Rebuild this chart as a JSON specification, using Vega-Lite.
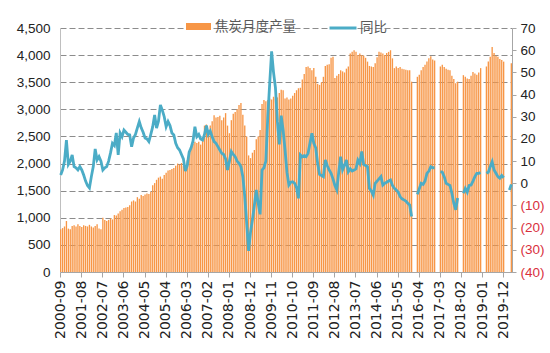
{
  "$schema": "https://vega.github.io/schema/vega-lite/v6.json",
  "width": 452,
  "height": 244,
  "autosize": {"type": "none"},
  "padding": {"left": 60, "top": 28, "right": 38, "bottom": 81},
  "config": {"view": {"stroke": null}, "font": "Liberation Sans", "mark": {"invalid": "break-paths-show-domains"}},
  "data": {"values": [
    {"m":"2000-09","v":790,"y":3.7},{"m":"2000-10","v":810,"y":6},{"m":"2000-11","v":840,"y":10},{"m":"2000-12","v":940,"y":19.5},
    {"m":"2001-01","v":800,"y":8.5},{"m":"2001-02","v":790,"y":10},{"m":"2001-03","v":850,"y":12.8},{"m":"2001-04","v":860,"y":7.5},{"m":"2001-05","v":840,"y":7},{"m":"2001-06","v":880,"y":6},{"m":"2001-07","v":850,"y":7.5},{"m":"2001-08","v":830,"y":6},{"m":"2001-09","v":860,"y":3.7},{"m":"2001-10","v":850,"y":1},{"m":"2001-11","v":840,"y":-1},{"m":"2001-12","v":870,"y":-2.1},
    {"m":"2002-01","v":840,"y":3},{"m":"2002-02","v":820,"y":7.5},{"m":"2002-03","v":850,"y":15.5},{"m":"2002-04","v":880,"y":10.5},{"m":"2002-05","v":800,"y":12},{"m":"2002-06","v":790,"y":10},{"m":"2002-07","v":1000,"y":6},{"m":"2002-08","v":960,"y":7},{"m":"2002-09","v":940,"y":7.5},{"m":"2002-10","v":960,"y":10},{"m":"2002-11","v":990,"y":13.7},{"m":"2002-12","v":970,"y":18},
    {"m":"2003-01","v":1050,"y":17},{"m":"2003-02","v":1040,"y":22.7},{"m":"2003-03","v":1080,"y":12.8},{"m":"2003-04","v":1120,"y":22.7},{"m":"2003-05","v":1150,"y":21},{"m":"2003-06","v":1180,"y":24},{"m":"2003-07","v":1190,"y":23},{"m":"2003-08","v":1200,"y":22},{"m":"2003-09","v":1230,"y":21.8},{"m":"2003-10","v":1300,"y":16.5},{"m":"2003-11","v":1320,"y":20.4},{"m":"2003-12","v":1300,"y":22},
    {"m":"2004-01","v":1380,"y":25},{"m":"2004-02","v":1350,"y":27.8},{"m":"2004-03","v":1420,"y":25},{"m":"2004-04","v":1400,"y":23},{"m":"2004-05","v":1430,"y":20.4},{"m":"2004-06","v":1450,"y":20},{"m":"2004-07","v":1440,"y":18.8},{"m":"2004-08","v":1480,"y":22},{"m":"2004-09","v":1600,"y":25.5},{"m":"2004-10","v":1640,"y":30.8},{"m":"2004-11","v":1700,"y":24.9},{"m":"2004-12","v":1740,"y":28},
    {"m":"2005-01","v":1760,"y":35.3},{"m":"2005-02","v":1720,"y":33},{"m":"2005-03","v":1790,"y":30},{"m":"2005-04","v":1830,"y":25.5},{"m":"2005-05","v":1870,"y":27.8},{"m":"2005-06","v":1880,"y":26},{"m":"2005-07","v":1900,"y":22.7},{"m":"2005-08","v":1920,"y":21.8},{"m":"2005-09","v":1960,"y":18},{"m":"2005-10","v":2000,"y":16},{"m":"2005-11","v":1980,"y":15},{"m":"2005-12","v":2010,"y":13},
    {"m":"2006-01","v":1960,"y":11},{"m":"2006-02","v":1880,"y":5.5},{"m":"2006-03","v":2060,"y":8},{"m":"2006-04","v":2200,"y":14},{"m":"2006-05","v":2310,"y":16},{"m":"2006-06","v":2360,"y":19},{"m":"2006-07","v":2400,"y":25.5},{"m":"2006-08","v":2380,"y":21},{"m":"2006-09","v":2400,"y":22},{"m":"2006-10","v":2350,"y":20},{"m":"2006-11","v":2420,"y":19.5},{"m":"2006-12","v":2700,"y":22},
    {"m":"2007-01","v":2720,"y":26},{"m":"2007-02","v":2560,"y":22},{"m":"2007-03","v":2700,"y":23.5},{"m":"2007-04","v":2780,"y":21},{"m":"2007-05","v":2890,"y":18.8},{"m":"2007-06","v":2850,"y":18},{"m":"2007-07","v":2860,"y":16.5},{"m":"2007-08","v":2880,"y":15},{"m":"2007-09","v":2800,"y":13.5},{"m":"2007-10","v":2850,"y":13},{"m":"2007-11","v":2930,"y":11},{"m":"2007-12","v":2700,"y":6},
    {"m":"2008-01","v":2560,"y":10},{"m":"2008-02","v":2800,"y":14.3},{"m":"2008-03","v":2920,"y":13},{"m":"2008-04","v":2950,"y":12},{"m":"2008-05","v":3000,"y":10},{"m":"2008-06","v":3080,"y":9},{"m":"2008-07","v":3115,"y":7.5},{"m":"2008-08","v":2900,"y":3},{"m":"2008-09","v":2700,"y":-6},{"m":"2008-10","v":2500,"y":-18},{"m":"2008-11","v":2150,"y":-30.5},{"m":"2008-12","v":2100,"y":-22},
    {"m":"2009-01","v":2200,"y":-16.5},{"m":"2009-02","v":2250,"y":-10},{"m":"2009-03","v":2450,"y":-3},{"m":"2009-04","v":2500,"y":-9},{"m":"2009-05","v":2620,"y":-14},{"m":"2009-06","v":3100,"y":6},{"m":"2009-07","v":3170,"y":7},{"m":"2009-08","v":3150,"y":10},{"m":"2009-09","v":3170,"y":30},{"m":"2009-10","v":3200,"y":45},{"m":"2009-11","v":3180,"y":59.5},{"m":"2009-12","v":3230,"y":50},
    {"m":"2010-01","v":3200,"y":43},{"m":"2010-02","v":3220,"y":28},{"m":"2010-03","v":3300,"y":17.5},{"m":"2010-04","v":3360,"y":30.5},{"m":"2010-05","v":3350,"y":24},{"m":"2010-06","v":3200,"y":15},{"m":"2010-07","v":3220,"y":5},{"m":"2010-08","v":3180,"y":-0.8},{"m":"2010-09","v":3200,"y":0.5},{"m":"2010-10","v":3250,"y":0.7},{"m":"2010-11","v":3300,"y":0},{"m":"2010-12","v":3350,"y":-2},
    {"m":"2011-01","v":3390,"y":-6.8},{"m":"2011-02","v":3400,"y":12.8},{"m":"2011-03","v":3550,"y":12},{"m":"2011-04","v":3650,"y":12.5},{"m":"2011-05","v":3780,"y":12},{"m":"2011-06","v":3790,"y":13.5},{"m":"2011-07","v":3760,"y":18},{"m":"2011-08","v":3720,"y":22.5},{"m":"2011-09","v":3760,"y":18},{"m":"2011-10","v":3600,"y":16},{"m":"2011-11","v":3470,"y":9},{"m":"2011-12","v":3450,"y":4},
    {"m":"2012-01","v":3500,"y":3.5},{"m":"2012-02","v":3600,"y":3},{"m":"2012-03","v":3800,"y":10.5},{"m":"2012-04","v":3820,"y":8},{"m":"2012-05","v":3830,"y":6},{"m":"2012-06","v":3950,"y":4.5},{"m":"2012-07","v":3970,"y":2},{"m":"2012-08","v":3580,"y":-1},{"m":"2012-09","v":3620,"y":-3},{"m":"2012-10","v":3650,"y":5},{"m":"2012-11","v":3720,"y":12},{"m":"2012-12","v":3700,"y":6},
    {"m":"2013-01","v":3680,"y":8},{"m":"2013-02","v":3750,"y":10.5},{"m":"2013-03","v":3790,"y":5.2},{"m":"2013-04","v":4030,"y":6.5},{"m":"2013-05","v":4060,"y":5.5},{"m":"2013-06","v":4090,"y":6},{"m":"2013-07","v":4060,"y":6.5},{"m":"2013-08","v":4000,"y":10.5},{"m":"2013-09","v":4030,"y":9},{"m":"2013-10","v":4000,"y":14.3},{"m":"2013-11","v":3990,"y":8.5},{"m":"2013-12","v":3950,"y":8},
    {"m":"2014-01","v":3880,"y":7.5},{"m":"2014-02","v":3800,"y":-2.3},{"m":"2014-03","v":3790,"y":-3.5},{"m":"2014-04","v":3780,"y":-5.3},{"m":"2014-05","v":3850,"y":0},{"m":"2014-06","v":3960,"y":1},{"m":"2014-07","v":4060,"y":2},{"m":"2014-08","v":4050,"y":3},{"m":"2014-09","v":4030,"y":-0.8},{"m":"2014-10","v":4000,"y":0},{"m":"2014-11","v":4040,"y":0.5},{"m":"2014-12","v":4060,"y":1},
    {"m":"2015-01","v":4090,"y":1.5},{"m":"2015-02","v":3940,"y":-1},{"m":"2015-03","v":3760,"y":-2.3},{"m":"2015-04","v":3790,"y":-3},{"m":"2015-05","v":3760,"y":-4},{"m":"2015-06","v":3780,"y":-6},{"m":"2015-07","v":3750,"y":-7},{"m":"2015-08","v":3740,"y":-7.5},{"m":"2015-09","v":3730,"y":-8},{"m":"2015-10","v":3720,"y":-9},{"m":"2015-11","v":3720,"y":-9.8},{"m":"2015-12","v":3510,"y":-15},
    {"m":"2016-01","v":null,"y":null},{"m":"2016-02","v":null,"y":null},{"m":"2016-03","v":3600,"y":-5},{"m":"2016-04","v":3640,"y":-2.5},{"m":"2016-05","v":3720,"y":0},{"m":"2016-06","v":3780,"y":-0.5},{"m":"2016-07","v":3820,"y":1},{"m":"2016-08","v":3880,"y":4.5},{"m":"2016-09","v":3940,"y":5.5},{"m":"2016-10","v":3980,"y":7.5},{"m":"2016-11","v":3920,"y":7},{"m":"2016-12","v":3900,"y":7},
    {"m":"2017-01","v":null,"y":null},{"m":"2017-02","v":null,"y":null},{"m":"2017-03","v":3790,"y":5.2},{"m":"2017-04","v":3820,"y":5},{"m":"2017-05","v":3780,"y":3},{"m":"2017-06","v":3750,"y":0},{"m":"2017-07","v":3730,"y":-0.5},{"m":"2017-08","v":3720,"y":-1},{"m":"2017-09","v":3620,"y":-4.5},{"m":"2017-10","v":3560,"y":-9},{"m":"2017-11","v":3480,"y":-12},{"m":"2017-12","v":3510,"y":-6.6},
    {"m":"2018-01","v":null,"y":null},{"m":"2018-02","v":null,"y":null},{"m":"2018-03","v":3630,"y":-4.5},{"m":"2018-04","v":3600,"y":-2.3},{"m":"2018-05","v":3570,"y":-4},{"m":"2018-06","v":3560,"y":-1},{"m":"2018-07","v":3620,"y":-0.8},{"m":"2018-08","v":3690,"y":1},{"m":"2018-09","v":3660,"y":3},{"m":"2018-10","v":3640,"y":4.5},{"m":"2018-11","v":3680,"y":4.5},{"m":"2018-12","v":3760,"y":4.8},
    {"m":"2019-01","v":null,"y":null},{"m":"2019-02","v":null,"y":null},{"m":"2019-03","v":3790,"y":4.5},{"m":"2019-04","v":3880,"y":5},{"m":"2019-05","v":3970,"y":7.5},{"m":"2019-06","v":4150,"y":9.7},{"m":"2019-07","v":4040,"y":6},{"m":"2019-08","v":3990,"y":4.5},{"m":"2019-09","v":3970,"y":3},{"m":"2019-10","v":3930,"y":2.3},{"m":"2019-11","v":3910,"y":3.5},{"m":"2019-12","v":3880,"y":2.5},
    {"m":"2020-01","v":null,"y":null},{"m":"2020-02","v":null,"y":null},{"m":"2020-03","v":null,"y":-3},{"m":"2020-04","v":3850,"y":-0.5}
  ]},
  "encoding": {
    "x": {
      "field": "m", "type": "ordinal", "sort": null,
      "scale": {"paddingInner": 0.3, "paddingOuter": 0},
      "axis": {
        "title": null,
        "values": ["2000-09","2001-08","2002-07","2003-06","2004-05","2005-04","2006-03","2007-02","2008-01","2008-12","2009-11","2010-10","2011-09","2012-08","2013-07","2014-06","2015-05","2016-04","2017-03","2018-02","2019-01","2019-12"],
        "labelAngle": 270, "labelFont": "DejaVu Sans", "labelFontSize": 14, "labelColor": "#222222",
        "labelPadding": 3, "tickSize": 5, "tickColor": "#A6A6A6", "domainColor": "#A6A6A6", "grid": false
      }
    }
  },
  "layer": [
    {
      "mark": {"type": "bar", "color": "#F79646"},
      "encoding": {
        "y": {
          "field": "v", "type": "quantitative",
          "scale": {"domain": [0, 4500], "nice": false},
          "axis": {
            "title": null, "values": [0,500,1000,1500,2000,2500,3000,3500,4000,4500], "format": ",.0f",
            "grid": true, "gridDash": [6, 3], "gridColor": "#8C8C8C", "gridWidth": 1,
            "domain": true, "domainColor": "#BFBFBF", "ticks": false,
            "labelFont": "Liberation Sans", "labelFontSize": 13.5, "labelColor": "#222222", "labelPadding": 10
          }
        },
        "color": {
          "datum": "焦炭月度产量",
          "scale": {"range": ["#F79646"]},
          "legend": {
            "orient": "none", "legendX": 125, "legendY": -15, "direction": "horizontal", "title": null,
            "padding": 0, "symbolType": "M-1,-0.28H1V0.28H-1Z", "symbolSize": 625, "symbolOpacity": 1,
            "labelFont": "Noto Sans CJK SC", "labelFontSize": 13.5, "labelColor": "#595959", "labelOffset": 3
          }
        }
      }
    },
    {
      "mark": {"type": "line", "color": "#4BACC6", "strokeWidth": 2.8},
      "encoding": {
        "y": {
          "field": "y", "type": "quantitative",
          "scale": {"domain": [-40, 70], "nice": false},
          "axis": {
            "title": null, "orient": "right", "values": [-40,-30,-20,-10,0,10,20,30,40,50,60,70],
            "labelExpr": "datum.value < 0 ? '(' + (-datum.value) + ')' : datum.value",
            "labelColor": {"condition": {"test": "datum.value < 0", "value": "#D9303E"}, "value": "#222222"},
            "grid": false, "domain": true, "domainColor": "#A6A6A6", "ticks": true, "tickColor": "#A6A6A6", "tickSize": 4,
            "labelFont": "Liberation Sans", "labelFontSize": 13.5, "labelPadding": 4
          }
        },
        "stroke": {
          "datum": "同比",
          "scale": {"range": ["#4BACC6"]},
          "legend": {
            "orient": "none", "legendX": 268, "legendY": -15, "direction": "horizontal", "title": null,
            "padding": 0, "symbolType": "stroke", "symbolSize": 729, "symbolStrokeWidth": 3,
            "labelFont": "Noto Sans CJK SC", "labelFontSize": 13.5, "labelColor": "#595959", "labelOffset": 2
          }
        }
      }
    }
  ],
  "resolve": {"scale": {"y": "independent"}}
}
